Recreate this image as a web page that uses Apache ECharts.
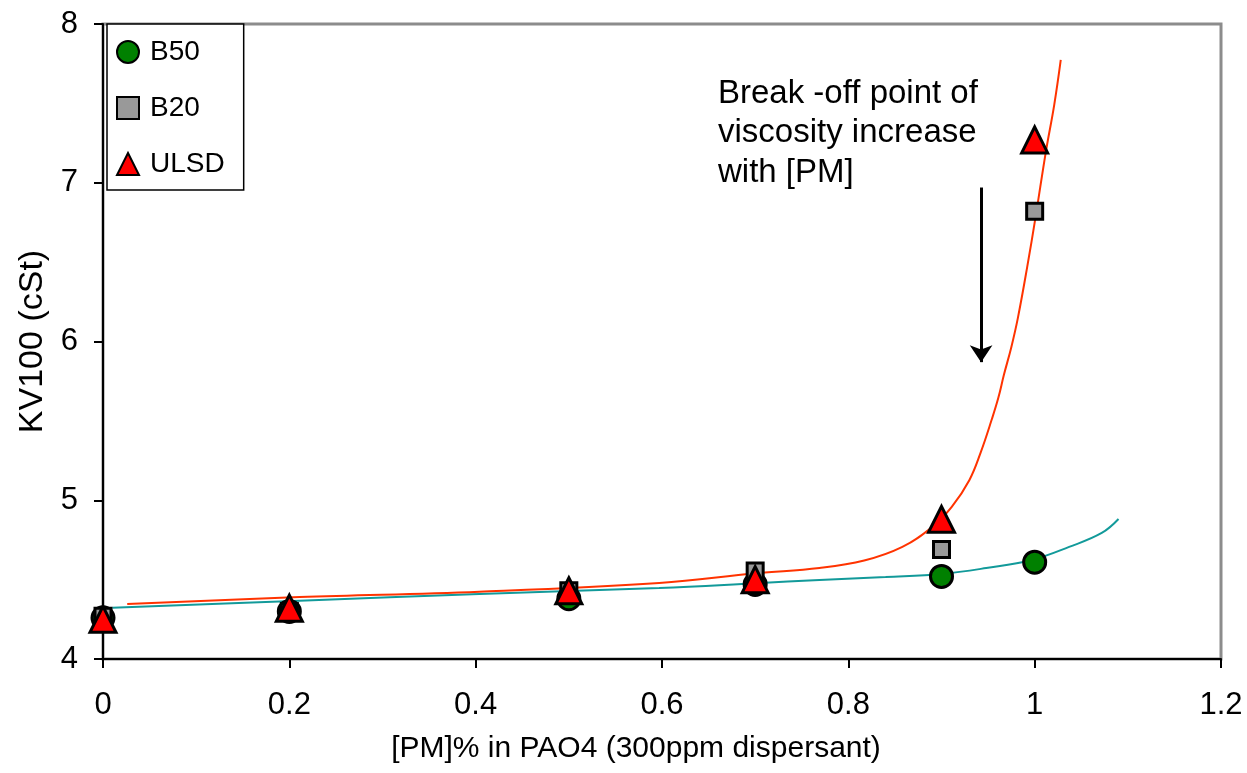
<!DOCTYPE html>
<html>
<head>
<meta charset="utf-8">
<script src="https://cdn.jsdelivr.net/npm/echarts@6/dist/echarts.min.js"></script>
<style>
html,body{margin:0;padding:0;background:#fff;}
#chart{width:1247px;height:773px;}
</style>
</head>
<body>
<div id="chart"></div>
<script>
// Measured values
const xPM = [0, 0.2, 0.5, 0.7, 0.9, 1.0];
const b50 = [4.26, 4.30, 4.38, 4.47, 4.52, 4.61];
const b20 = [4.27, 4.30, 4.43, 4.555, 4.69, 6.82];
const ulsd = [4.25, 4.32, 4.43, 4.50, 4.88, 7.27];

// Trend lines [x, y]
const trendUlsd = [[0.026,4.347],[0.211,4.39],[0.404,4.424],[0.597,4.479],[0.701,4.54],[0.769,4.573],[0.817,4.62],[0.858,4.706],[0.890,4.832],[0.911,4.958],[0.930,5.128],[0.942,5.30],[0.954,5.51],[0.961,5.645],[0.967,5.79],[0.975,5.966],[0.982,6.149],[0.992,6.47],[1.001,6.785],[1.012,7.195],[1.021,7.491],[1.028,7.774]];
const trendB50 = [[0.010,4.323],[0.211,4.367],[0.404,4.410],[0.597,4.447],[0.701,4.477],[0.769,4.498],[0.840,4.517],[0.900,4.536],[0.948,4.573],[0.997,4.624],[1.037,4.706],[1.072,4.794],[1.090,4.882]];

// Annotation arrow (data coords)
const arrowX = 0.9425;
const arrowFrom = 6.97;
const arrowTo = 5.87;
const noteLines = ['Break -off point of', 'viscosity increase', 'with [PM]'];

const FONT = 'Liberation Sans, Arial, sans-serif';
const pair = (ys) => xPM.map((x, i) => [x, ys[i]]);

const chart = echarts.init(document.getElementById('chart'), null, {renderer: 'canvas'});
chart.setOption({
  backgroundColor: '#ffffff',
  animation: false,
  grid: {left: 103, right: 26, top: 24, bottom: 114, show: true, borderColor: '#8c8c8c', borderWidth: 3, backgroundColor: 'transparent'},
  xAxis: {
    type: 'value', min: 0, max: 1.2, interval: 0.2,
    name: '[PM]% in PAO4 (300ppm dispersant)', nameLocation: 'middle', nameGap: 75,
    nameTextStyle: {fontFamily: FONT, fontSize: 30, color: '#000', padding: [0, 52, 0, 0]},
    axisLine: {show: true, onZero: false, lineStyle: {color: '#000', width: 2}},
    axisTick: {show: true, length: 9, lineStyle: {color: '#000', width: 2}},
    axisLabel: {fontFamily: FONT, fontSize: 31, color: '#000', margin: 31, formatter: v => String(+v.toFixed(1))},
    splitLine: {show: false}
  },
  yAxis: {
    type: 'value', min: 4, max: 8, interval: 1,
    name: 'KV100 (cSt)', nameLocation: 'middle', nameGap: 53,
    nameTextStyle: {fontFamily: FONT, fontSize: 34, color: '#000'},
    axisLine: {show: true, onZero: false, lineStyle: {color: '#000', width: 2}},
    axisTick: {show: true, length: 9, lineStyle: {color: '#000', width: 2}},
    axisLabel: {fontFamily: FONT, fontSize: 31, color: '#000', margin: 25},
    splitLine: {show: false}
  },
  legend: {
    orient: 'vertical', left: 107, top: 24,
    data: ['B50', 'B20', 'ULSD'],
    backgroundColor: '#fff', borderColor: '#000', borderWidth: 1.5,
    padding: [14, 19, 12, 9],
    itemWidth: 22, itemHeight: 22, itemGap: 28,
    symbolKeepAspect: true,
    textStyle: {fontFamily: FONT, fontSize: 28, color: '#000', lineHeight: 28, padding: [0, 0, 0, 6]},
    selectedMode: false
  },
  graphic: [{
    type: 'text', left: 718, top: 74, z: 10,
    style: {text: noteLines.join('\n'), font: '33px ' + FONT, fill: '#000', lineHeight: 39.5}
  }],
  series: [
    {
      name: 'trendB50', type: 'line', data: trendB50, showSymbol: false, smooth: 0.4,
      lineStyle: {color: '#129a9a', width: 2}, z: 2, silent: true
    },
    {
      name: 'trendULSD', type: 'line', data: trendUlsd, showSymbol: false, smooth: 0.4,
      lineStyle: {color: '#ff3300', width: 2}, z: 2, silent: true,
      markLine: {
        silent: true, symbol: ['none', 'arrow'], symbolSize: [17, 17],
        lineStyle: {color: '#000', width: 3, type: 'solid'},
        label: {show: false},
        data: [[{coord: [arrowX, arrowFrom]}, {coord: [arrowX, arrowTo]}]]
      }
    },
    {
      name: 'B50', type: 'scatter', data: pair(b50), symbol: 'circle', symbolSize: 22, z: 3,
      itemStyle: {color: '#008000', borderColor: '#000', borderWidth: 3, opacity: 1}
    },
    {
      name: 'B20', type: 'scatter', data: pair(b20), symbol: 'rect', symbolSize: 16, z: 4,
      itemStyle: {color: '#999999', borderColor: '#000', borderWidth: 3, opacity: 1}
    },
    {
      name: 'ULSD', type: 'scatter', data: pair(ulsd), symbol: 'triangle', symbolSize: 26, z: 5,
      itemStyle: {color: '#ff0000', borderColor: '#000', borderWidth: 3, opacity: 1}
    }
  ]
});
</script>
</body>
</html>
